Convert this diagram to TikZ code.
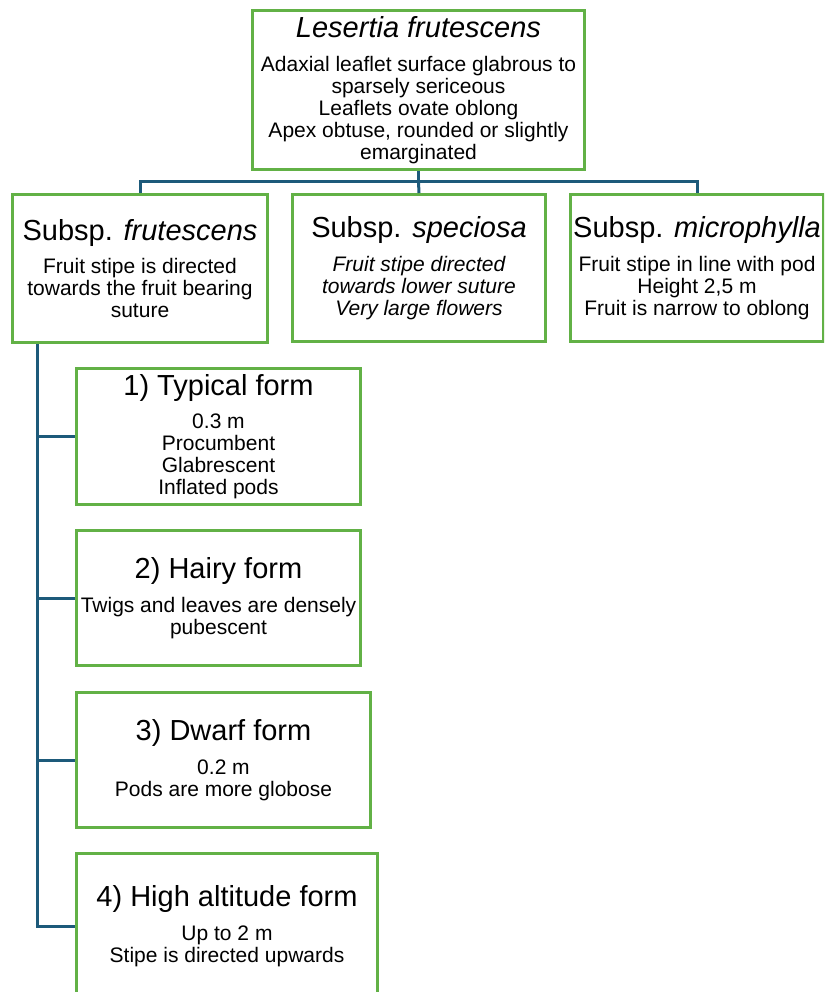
\documentclass[tikz,border=0pt]{standalone}
\usepackage{fontspec}
\setmainfont{Liberation Sans}
\definecolor{boxgreen}{HTML}{62B146}
\definecolor{connblue}{HTML}{1D5A7A}
\begin{document}
\begin{tikzpicture}[x=1pt,y=-1pt,
  tbox/.style={draw=boxgreen, line width=3pt, fill=white, inner sep=0pt, align=center,
    font=\fontsize{21}{22}\selectfont},
  conn/.style={draw=connblue, line width=3pt}]
\useasboundingbox (0,0) rectangle (824,992);
\clip (0,0) rectangle (824,992);
\fill[white] (0,0) rectangle (824,992);
\newcommand{\hd}[1]{{\fontsize{29}{33}\selectfont #1}}

% connectors (drawn first, boxes cover their ends)
\coordinate (topS) at (418.5,171);
\coordinate (spinex) at (37,0);

\node[tbox, minimum width=332pt, minimum height=159pt] (top) at (418.5,90)
 {\hd{\itshape Lesertia frutescens}\\[11.5pt]
  Adaxial leaflet surface glabrous to\\ sparsely sericeous\\ Leaflets ovate oblong\\
  Apex obtuse, rounded or slightly\\ emarginated};

\node[tbox, minimum width=255pt, minimum height=148pt] (fr) at (140,268.5)
 {\hd{Subsp. \itshape frutescens}\\[11.5pt]
  Fruit stipe is directed\\ towards the fruit bearing\\ suture};
\node[tbox, minimum width=253pt, minimum height=147pt] (sp) at (419,268)
 {\hd{Subsp. \itshape speciosa}\\[11.5pt]
  \itshape Fruit stipe directed\\ \itshape towards lower suture\\ \itshape Very large flowers};
\node[tbox, minimum width=253pt, minimum height=147pt] (mi) at (697,268)
 {\hd{Subsp. \itshape microphylla}\\[11.5pt]
  Fruit stipe in line with pod\\ Height 2,5 m\\ Fruit is narrow to oblong};

\node[tbox, minimum width=284pt, minimum height=136pt] (f1) at (218.5,436.5)
 {\hd{1) Typical form}\\[11.5pt] 0.3 m\\ Procumbent\\ Glabrescent\\ Inflated pods};
\node[tbox, minimum width=284pt, minimum height=135pt] (f2) at (218.5,598)
 {\hd{2) Hairy form}\\[11.5pt] Twigs and leaves are densely\\ pubescent};
\node[tbox, minimum width=294pt, minimum height=135pt] (f3) at (223.5,760)
 {\hd{3) Dwarf form}\\[11.5pt] 0.2 m\\ Pods are more globose};
\node[tbox, minimum width=301pt, minimum height=145pt] (f4) at (227,926)
 {\hd{4) High altitude form}\\[11.5pt] Up to 2 m\\ Stipe is directed upwards};

% connectors from the species box
\draw[conn] (top.south) -- ++(0,11) coordinate (bus) -| (fr.north);
\draw[conn] (bus) -- (sp.north);
\draw[conn] (bus) -| (mi.north);

% spine of the forms
\draw[conn] (spinex |- fr.south) -- (spinex |- f4.west) -- (f4.west);
\draw[conn] (spinex |- f1.west) -- (f1.west);
\draw[conn] (spinex |- f2.west) -- (f2.west);
\draw[conn] (spinex |- f3.west) -- (f3.west);
\end{tikzpicture}
\end{document}
